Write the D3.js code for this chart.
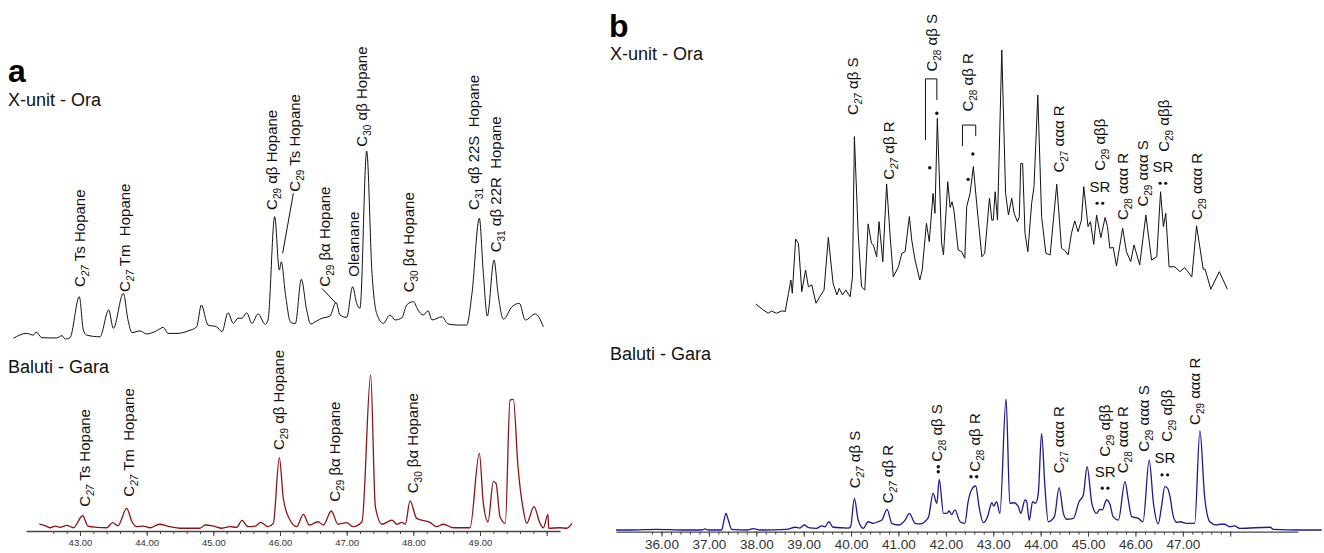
<!DOCTYPE html>
<html>
<head>
<meta charset="utf-8">
<script src="https://cdn.jsdelivr.net/npm/d3@7"></script>
<style>
  body { margin: 0; background: #fff; }
  svg { display: block; }
  text { font-family: "Liberation Sans", Arial, Helvetica, sans-serif; }
</style>
</head>
<body>
<svg id="chart" width="1324" height="553"></svg>
<script>
// ---- data: [retention time (min), relative abundance] ----
var traceAOra = [[42.00,0.9],[42.20,3.5],[42.30,2.6],[42.34,4.2],[42.43,1.2],[42.52,1.1],[42.65,1.1],[42.73,2.3],[42.78,0.5],[42.85,1.2],[42.99,22.9],[43.05,5.3],[43.10,2.6],[43.30,1.7],[43.43,15.9],[43.50,6.2],[43.65,24.7],[43.72,10.6],[43.78,3.9],[43.90,4.8],[44.00,3.2],[44.15,4.9],[44.25,6.7],[44.32,3.5],[44.47,3.5],[44.62,4.8],[44.75,7.0],[44.82,18.5],[44.92,7.9],[45.05,7.0],[45.13,4.4],[45.22,14.4],[45.30,8.8],[45.37,11.5],[45.43,11.5],[45.50,14.4],[45.58,8.8],[45.67,13.8],[45.78,8.3],[45.82,10.6],[45.92,65.3],[45.99,37.0],[46.02,41.4],[46.08,24.7],[46.16,9.3],[46.23,8.7],[46.32,32.1],[46.40,15.9],[46.46,8.5],[46.55,10.1],[46.63,11.5],[46.75,12.7],[46.84,19.9],[46.90,13.2],[47.00,12.0],[47.09,28.2],[47.15,19.4],[47.20,16.8],[47.30,100],[47.38,35.3],[47.45,14.1],[47.55,8.8],[47.65,13.2],[47.73,10.6],[47.83,11.8],[47.90,18.5],[48.00,20.3],[48.07,15.9],[48.15,13.2],[48.22,15.5],[48.28,10.6],[48.43,12.3],[48.52,8.5],[48.67,7.9],[48.80,7.9],[48.88,24.7],[48.99,64.4],[49.05,35.3],[49.11,12.7],[49.21,42.3],[49.27,24.7],[49.35,11.0],[49.48,17.6],[49.59,19.4],[49.68,10.6],[49.83,13.8],[49.95,7.0]];

var traceAGara = [[42.39,3.1],[42.48,2.1],[42.55,0.8],[42.63,1.9],[42.70,1.1],[42.80,2.4],[42.90,0.8],[43.04,8.6],[43.12,1.9],[43.25,1.1],[43.40,0.8],[43.49,4.1],[43.57,2.1],[43.70,13.4],[43.78,4.7],[43.85,1.5],[43.95,1.9],[44.05,0.8],[44.19,3.1],[44.35,1.5],[44.50,0.5],[44.80,0.5],[44.88,2.6],[45.00,1.9],[45.13,0.5],[45.25,1.5],[45.35,1.1],[45.43,5.6],[45.52,1.5],[45.63,1.9],[45.71,4.3],[45.82,1.5],[45.90,3.7],[45.99,46.4],[46.05,19.8],[46.15,5.8],[46.25,1.5],[46.35,9.5],[46.44,2.6],[46.57,4.7],[46.65,2.6],[46.77,11.7],[46.87,3.1],[47.00,4.1],[47.10,1.5],[47.23,4.7],[47.36,100],[47.43,14.5],[47.53,3.1],[47.68,5.8],[47.75,3.1],[47.83,4.3],[47.88,3.1],[47.95,18.2],[48.05,6.9],[48.25,4.3],[48.35,1.5],[48.45,3.1],[48.60,0.8],[48.85,0.8],[48.99,49.1],[49.05,16.7],[49.12,4.7],[49.20,30.7],[49.24,29.7],[49.30,8.0],[49.38,3.7],[49.45,83.7],[49.50,84.2],[49.57,40.4],[49.65,12.3],[49.70,3.7],[49.81,14.5],[49.90,3.7],[49.95,0.8],[50.02,9.5],[50.03,0.5],[50.20,0.8],[50.30,0.5],[50.38,3.7]];

var traceBOra = [[37.99,5.9],[38.15,3.7],[38.25,2.5],[38.32,3.3],[38.43,2.5],[38.54,3.4],[38.61,3.1],[38.68,9.9],[38.73,14.8],[38.76,9.9],[38.83,30.0],[38.89,28.4],[38.96,10.5],[39.04,18.5],[39.10,12.3],[39.17,13.0],[39.26,6.2],[39.34,8.6],[39.43,11.1],[39.52,30.6],[39.62,13.6],[39.70,9.3],[39.75,11.7],[39.82,9.3],[39.89,11.1],[39.98,8.6],[40.03,16.0],[40.07,67.9],[40.15,32.1],[40.22,12.3],[40.29,11.1],[40.36,35.6],[40.43,28.4],[40.47,27.8],[40.54,23.4],[40.59,36.4],[40.67,21.6],[40.75,50.4],[40.82,32.1],[40.89,16.0],[41.00,19.7],[41.07,24.7],[41.14,25.3],[41.23,38.3],[41.28,29.6],[41.35,22.2],[41.45,14.8],[41.50,18.5],[41.59,35.8],[41.65,29.0],[41.73,46.9],[41.77,39.5],[41.82,74.7],[41.91,28.4],[41.95,24.1],[42.04,51.2],[42.09,41.7],[42.13,43.8],[42.17,40.7],[42.26,25.9],[42.33,25.3],[42.40,22.9],[42.44,42.0],[42.51,46.9],[42.58,56.8],[42.65,43.2],[42.76,23.4],[42.82,24.7],[42.92,45.1],[42.97,37.0],[43.00,37.0],[43.04,47.5],[43.09,37.0],[43.18,100],[43.26,46.9],[43.32,38.9],[43.39,45.1],[43.44,39.5],[43.51,36.4],[43.55,38.3],[43.58,58.0],[43.62,58.0],[43.67,32.1],[43.73,25.3],[43.81,43.2],[43.86,49.4],[43.94,83.3],[44.02,38.3],[44.11,24.7],[44.20,24.1],[44.34,50.3],[44.44,26.6],[44.51,25.7],[44.58,24.1],[44.65,32.1],[44.72,36.7],[44.79,32.7],[44.86,37.0],[44.91,49.4],[45.00,34.6],[45.05,36.4],[45.12,28.0],[45.18,38.9],[45.27,30.5],[45.36,38.0],[45.41,34.6],[45.46,26.6],[45.53,26.9],[45.60,20.0],[45.73,34.0],[45.81,25.3],[45.90,21.6],[45.97,27.8],[46.09,20.4],[46.22,38.9],[46.34,22.2],[46.45,23.4],[46.53,47.5],[46.59,34.6],[46.64,39.5],[46.71,19.7],[46.83,19.7],[46.94,17.9],[47.04,19.4],[47.19,16.0],[47.29,34.9],[47.43,18.8],[47.47,18.8],[47.59,11.4],[47.77,17.9],[47.94,11.4]];

var traceBGara = [[35.04,0],[35.34,0],[35.90,0.5],[36.46,0],[36.85,0],[36.92,0.8],[36.99,0],[37.27,0],[37.32,7.6],[37.36,12.7],[37.41,7.6],[37.48,0.5],[37.80,0],[37.94,1.0],[38.08,0],[38.64,0.5],[38.82,2.1],[38.92,1.5],[39.01,3.8],[39.10,1.8],[39.27,1.3],[39.38,3.1],[39.45,2.5],[39.53,6.3],[39.62,2.1],[39.94,1.5],[39.99,2.5],[40.07,24.2],[40.15,7.6],[40.26,1.3],[40.36,6.3],[40.47,5.1],[40.57,6.3],[40.65,7.6],[40.76,15.8],[40.86,5.1],[41.00,3.8],[41.14,7.6],[41.23,12.7],[41.35,5.1],[41.45,4.6],[41.63,9.4],[41.73,28.0],[41.81,20.4],[41.86,38.6],[41.95,12.7],[42.02,12.7],[42.07,14.5],[42.12,11.8],[42.19,15.3],[42.30,6.3],[42.40,5.1],[42.47,21.6],[42.54,30.5],[42.63,33.6],[42.70,17.8],[42.79,5.6],[42.88,10.2],[42.97,20.8],[43.01,18.3],[43.07,21.6],[43.14,12.7],[43.27,100],[43.35,20.4],[43.44,20.8],[43.53,17.8],[43.58,12.7],[43.67,22.9],[43.70,22.4],[43.76,7.6],[43.83,21.6],[43.89,20.4],[43.95,28.0],[44.02,73.8],[44.09,33.1],[44.16,6.3],[44.29,10.2],[44.39,32.3],[44.48,12.7],[44.55,8.2],[44.69,8.9],[44.81,21.6],[44.90,26.7],[44.98,48.3],[45.08,20.4],[45.18,12.7],[45.25,15.8],[45.30,15.3],[45.39,22.9],[45.46,19.8],[45.53,10.2],[45.64,7.6],[45.78,36.9],[45.85,22.9],[45.92,10.2],[46.06,8.9],[46.16,6.3],[46.29,53.4],[46.38,20.4],[46.48,4.6],[46.55,17.8],[46.62,33.1],[46.68,31.8],[46.73,25.4],[46.80,10.2],[46.87,5.9],[46.94,6.3],[47.08,5.1],[47.25,5.1],[47.36,75.6],[47.46,25.4],[47.57,6.3],[47.71,3.8],[47.78,4.4],[47.88,4.4],[47.99,2.5],[48.09,3.1],[48.20,1.3],[48.84,2.1],[48.91,0.5],[49.47,0],[49.93,0]];

// axis tick labels
var ticksA = [43, 44, 45, 46, 47, 48, 49];
var ticksAExtra = [50];
var ticksB = [36, 37, 38, 39, 40, 41, 42, 43, 44, 45, 46, 47];
var ticksBExtra = [48];

// peak labels: t = time, lv = level of the label foot
var labelsAOra = [
  {t:43.00, lv:28.0, sub:"27", it:true, rest:" Ts Hopane"},
  {t:43.67, lv:25.4, sub:"27", it:true, rest:" Tm  Hopane"},
  {t:45.88, lv:68.8, sub:"29", rest:" αβ Hopane"},
  {t:46.22, lv:78.5, sub:"29", rest:" Ts Hopane"},
  {t:46.67, lv:28.2, sub:"29", rest:" βα Hopane"},
  {t:47.11, lv:33.5, sub:null, rest:"Oleanane"},
  {t:47.23, lv:102.3, sub:"30", rest:" αβ Hopane"},
  {t:47.94, lv:25.2, sub:"30", rest:" βα Hopane"},
  {t:48.91, lv:68.8, sub:"31", rest:" αβ 22S  Hopane"},
  {t:49.24, lv:46.4, sub:"31", rest:" αβ 22R  Hopane"}
];
var leadersAOra = [
  [[46.20,77.6],[46.04,45.9]],
  [[46.63,27.3],[46.84,19.4]]
];
var labelsAGara = [
  {t:43.08, lv:14.5, sub:"27", it:true, rest:" Ts Hopane"},
  {t:43.74, lv:21.0, sub:"27", it:true, rest:" Tm  Hopane"},
  {t:45.99, lv:51.3, sub:"29", rest:" αβ Hopane"},
  {t:46.83, lv:17.7, sub:"29", rest:" βα Hopane"},
  {t:47.99, lv:23.2, sub:"30", rest:" βα Hopane"}
];
var labelsBOra = [
  {t:40.05, lv:75.9, sub:"27", it:true, rest:" αβ S"},
  {t:40.81, lv:51.9, sub:"27", it:true, rest:" αβ R"},
  {t:41.70, lv:92.0, sub:"28", rest:" αβ S"},
  {t:42.47, lv:77.2, sub:"28", rest:" αβ R"},
  {t:44.39, lv:54.6, sub:"27", rest:" ααα R"},
  {t:45.25, lv:55.3, sub:"29", rest:" αββ"},
  {t:45.73, lv:37.0, sub:"28", rest:" ααα R"},
  {t:46.16, lv:42.0, sub:"29", rest:" ααα S"},
  {t:46.60, lv:62.3, sub:"29", rest:" αββ"},
  {t:47.29, lv:37.0, sub:"29", rest:" ααα R"}
];
var srBOra = [[45.25,47.5],[46.58,54.9]];
var bracketsBOra = [
  [[41.57,66.7],[41.57,89.3],[41.81,89.3],[41.81,81.5]],
  [[42.35,64.4],[42.35,72.2],[42.63,72.2],[42.63,68.1]]
];
var dotsBOra = [[41.81,76.6],[41.66,56.4],[42.57,61.5],[42.47,52.1]];

var labelsBGara = [
  {t:40.08, lv:31.8, sub:"27", it:true, rest:" αβ S"},
  {t:40.78, lv:20.4, sub:"27", it:true, rest:" αβ R"},
  {t:41.82, lv:52.1, sub:"28", rest:" αβ S"},
  {t:42.61, lv:44.5, sub:"28", rest:" αβ R"},
  {t:44.39, lv:43.3, sub:"27", rest:" ααα R"},
  {t:45.36, lv:56.0, sub:"29", rest:" αββ"},
  {t:45.74, lv:43.3, sub:"28", rest:" ααα R"},
  {t:46.18, lv:59.8, sub:"29", rest:" ααα S"},
  {t:46.66, lv:67.4, sub:"29", rest:" αββ"},
  {t:47.26, lv:80.2, sub:"29", rest:" ααα R"}
];
var srBGara = [[45.36,40.7],[46.62,50.9]];
var dotsBGara = [[41.84,48.3],[41.84,44.5],[42.53,40.7],[42.65,40.7]];

// ---- scales ----
var svg = d3.select("#chart");

var xA = d3.scaleLinear().domain([42.19, 50.2]).range([26, 560]);
var yAOra = d3.scaleLinear().domain([0, 100]).range([340, 151]);
var yAGara = d3.scaleLinear().domain([0, 100]).range([529, 375]);

var xB = d3.scaleLinear().domain([35.04, 49.43]).range([616, 1298]);
var yBOra = d3.scaleLinear().domain([0, 100]).range([320, 50]);
var yBGara = d3.scaleLinear().domain([0, 100]).range([530, 399]);

function trace(data, x, y, color, width, curve) {
  svg.append("path").datum(data)
    .attr("fill", "none")
    .attr("stroke", color)
    .attr("stroke-width", width)
    .attr("stroke-linejoin", "round")
    .attr("d", d3.line().x(d => x(d[0])).y(d => y(d[1])).curve(curve));
}

function axis(x, yPos, majors, extra, from, to, fs) {
  var g = svg.append("g").attr("transform", `translate(0,${yPos})`);
  var minor = d3.range(Math.round(from * 5), Math.round(to * 5) + 1).map(v => v / 5);
  g.append("g")
    .call(d3.axisBottom(x).tickValues(minor).tickSize(3).tickSizeOuter(0).tickFormat(""))
    .call(s => s.select(".domain").remove())
    .call(s => s.selectAll("line").attr("stroke", "#444"));
  g.append("g")
    .call(d3.axisBottom(x).tickValues(majors.concat(extra)).tickSize(5).tickSizeOuter(0)
      .tickFormat(d => majors.indexOf(d) >= 0 ? d.toFixed(2) : ""))
    .attr("font-size", fs)
    .attr("font-family", null)
    .call(s => s.select(".domain").attr("stroke", "#444").attr("stroke-width", 1.3))
    .call(s => s.selectAll("line").attr("stroke", "#444"))
    .call(s => s.selectAll("text").attr("fill", "#333"));
}

function peakLabels(list, x, y) {
  list.forEach(function(d) {
    var t = svg.append("text")
      .attr("transform", `translate(${x(d.t) + 5},${y(d.lv)}) rotate(-90)`)
      .attr("font-size", 15)
      .attr("fill", "#111")
      .style("white-space", "pre");
    if (d.sub) {
      t.append("tspan").text("C");
      t.append("tspan").attr("font-size", 10).attr("dy", 4)
        .attr("font-style", d.it ? "italic" : null).text(d.sub);
      t.append("tspan").attr("dy", -4).text(d.rest);
    } else {
      t.text(d.rest);
    }
  });
}

function srLabels(list, x, y) {
  list.forEach(function(d) {
    var px = x(d[0]), py = y(d[1]);
    svg.append("text").attr("x", px).attr("y", py)
      .attr("text-anchor", "middle").attr("font-size", 15).attr("fill", "#111").text("SR");
    [-2.8, 2.8].forEach(function(o) {
      svg.append("circle").attr("cx", px + o).attr("cy", py + 11.5).attr("r", 1.6).attr("fill", "#111");
    });
  });
}

function dots(list, x, y) {
  svg.selectAll(null).data(list).enter().append("circle")
    .attr("cx", d => x(d[0])).attr("cy", d => y(d[1])).attr("r", 1.7).attr("fill", "#111");
}

function polylines(list, x, y) {
  list.forEach(function(pts) {
    svg.append("path").datum(pts)
      .attr("fill", "none").attr("stroke", "#111").attr("stroke-width", 1)
      .attr("d", d3.line().x(d => x(d[0])).y(d => y(d[1])));
  });
}

// ---- panel a ----
svg.append("text").attr("x", 8).attr("y", 82).attr("font-size", 32).attr("font-weight", "bold").text("a");
svg.append("text").attr("x", 8).attr("y", 106).attr("font-size", 18).attr("fill", "#111").text("X-unit - Ora");
svg.append("text").attr("x", 8).attr("y", 373).attr("font-size", 18).attr("fill", "#111").text("Baluti - Gara");

trace(traceAOra, xA, yAOra, "#111", 1, d3.curveMonotoneX);
trace(traceAGara, xA, yAGara, "#8b1515", 1.3, d3.curveMonotoneX);
axis(xA, 531, ticksA, ticksAExtra, 42.6, 50.0, 9.5);
peakLabels(labelsAOra, xA, yAOra);
polylines(leadersAOra, xA, yAOra);
peakLabels(labelsAGara, xA, yAGara);

// ---- panel b ----
svg.append("text").attr("x", 609).attr("y", 37).attr("font-size", 32).attr("font-weight", "bold").text("b");
svg.append("text").attr("x", 610).attr("y", 60).attr("font-size", 18).attr("fill", "#111").text("X-unit - Ora");
svg.append("text").attr("x", 610).attr("y", 360).attr("font-size", 18).attr("fill", "#111").text("Baluti - Gara");

trace(traceBOra, xB, yBOra, "#111", 1, d3.curveLinear);
trace(traceBGara, xB, yBGara, "#1b1b8f", 1.3, d3.curveMonotoneX);
axis(xB, 531.7, ticksB, ticksBExtra, 35.8, 48.0, 13.5);
peakLabels(labelsBOra, xB, yBOra);
srLabels(srBOra, xB, yBOra);
polylines(bracketsBOra, xB, yBOra);
dots(dotsBOra, xB, yBOra);
peakLabels(labelsBGara, xB, yBGara);
srLabels(srBGara, xB, yBGara);
dots(dotsBGara, xB, yBGara);
</script>
</body>
</html>
